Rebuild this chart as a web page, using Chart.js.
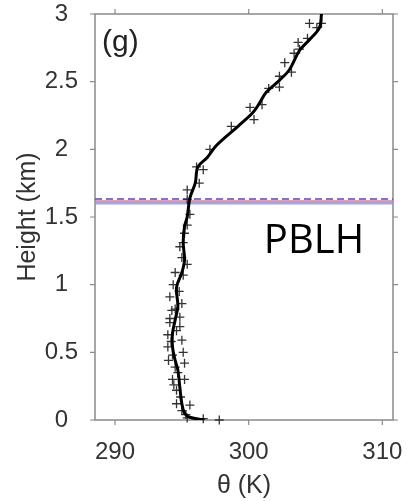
<!DOCTYPE html>
<html>
<head>
<meta charset="utf-8">
<script src="https://cdn.jsdelivr.net/npm/chart.js@4.4.1/dist/chart.umd.min.js"></script>
<style>
  body { margin: 0; background: #fff; }
  canvas { display: block; }
</style>
</head>
<body>
<canvas id="thetaChart" width="407" height="501"></canvas>
<script>
// smoothed theta profile (K) vs height (km)
const profileTheta = [296.7, 295.6, 295.2, 295.0, 294.85, 294.7, 294.5, 294.3, 294.3, 294.5, 294.7, 294.6, 295.0, 295.2, 295.1, 295.2, 295.4, 295.6, 296.0, 296.2, 296.9, 297.6, 299.2, 300.3, 300.8, 301.3, 302.3, 303.06, 303.8, 304.55, 305.3, 305.45];
const profileHeight = [0, 0.02, 0.05, 0.12, 0.24, 0.37, 0.44, 0.54, 0.64, 0.74, 0.84, 0.98, 1.09, 1.18, 1.31, 1.43, 1.50, 1.64, 1.75, 1.87, 1.94, 2.03, 2.17, 2.27, 2.34, 2.42, 2.51, 2.59, 2.73, 2.81, 2.90, 3.0];

// raw sounding points ("+" markers)
const obsTheta = [297.8, 296.6, 295.4, 295.3, 295.0, 295.6, 294.6, 294.9, 294.6, 294.4, 294.3, 295.2, 294.7, 294.5, 295.2, 294.0, 294.3, 295.1, 293.95, 294.2, 295.0, 293.95, 294.6, 294.85, 294.1, 294.85, 294.1, 294.25, 294.5, 295.0, 294.1, 294.8, 294.35, 295.1, 294.5, 295.4, 295.0, 294.85, 295.1, 295.2, 295.4, 295.6, 295.4, 295.4, 296.3, 296.6, 296.1, 297.1, 298.7, 300.4, 300.1, 301.0, 301.5, 302.3, 302.3, 303.2, 302.7, 303.4, 303.8, 303.7, 304.4, 305.1, 304.55, 305.45];
const obsHeight = [0.0, 0.01, 0.015, 0.04, 0.07, 0.11, 0.12, 0.17, 0.22, 0.26, 0.30, 0.30, 0.35, 0.39, 0.42, 0.44, 0.48, 0.50, 0.54, 0.58, 0.59, 0.63, 0.66, 0.69, 0.72, 0.76, 0.75, 0.81, 0.82, 0.86, 0.91, 0.95, 1.00, 1.07, 1.09, 1.15, 1.20, 1.28, 1.31, 1.38, 1.44, 1.52, 1.63, 1.70, 1.75, 1.85, 1.87, 2.0, 2.17, 2.22, 2.31, 2.33, 2.45, 2.46, 2.54, 2.57, 2.64, 2.71, 2.74, 2.79, 2.82, 2.90, 2.93, 2.93];

// PBLH estimates (km)
const pblhDashed = 1.633;
const pblhRed = 1.619;
const pblhBlue = 1.604;

const xTicks = [290, 300, 310];
const xMin = 288.5, xMax = 310.8;
const yMin = 0, yMax = 3;

const toPoints = (xs, ys) => xs.map((x, i) => ({ x: x, y: ys[i] }));
const hLine = (h) => [{ x: xMin, y: h }, { x: xMax, y: h }];

// box + outward ticks on all four sides, panel letter and PBLH note
const boxPlugin = {
    id: 'box',
    beforeDatasetsDraw(chart) {
        const { ctx, chartArea: a, scales } = chart;
        ctx.save();
        ctx.strokeStyle = '#8a8a8a';
        ctx.lineWidth = 1.5;
        ctx.strokeRect(a.left, a.top, a.right - a.left, a.bottom - a.top);
        ctx.lineWidth = 1.2;
        ctx.beginPath();
        scales.x.ticks.forEach(t => {
            const px = scales.x.getPixelForValue(t.value);
            ctx.moveTo(px, a.bottom); ctx.lineTo(px, a.bottom + 5);
            ctx.moveTo(px, a.top); ctx.lineTo(px, a.top - 5);
        });
        scales.y.ticks.forEach(t => {
            const py = scales.y.getPixelForValue(t.value);
            ctx.moveTo(a.left, py); ctx.lineTo(a.left - 5, py);
            ctx.moveTo(a.right, py); ctx.lineTo(a.right + 5, py);
        });
        ctx.stroke();
        ctx.restore();
    },
    afterDraw(chart) {
        const { ctx } = chart;
        ctx.save();
        ctx.fillStyle = '#222';
        ctx.textAlign = 'left';
        ctx.textBaseline = 'alphabetic';
        ctx.font = '30px "Liberation Sans", Arial, sans-serif';
        ctx.fillText('(g)', 102, 51);
        ctx.fillStyle = '#000';
        ctx.textAlign = 'center';
        ctx.font = '40px "Open Sans", sans-serif';
        ctx.fillText('PBLH', 314, 253);
        ctx.restore();
    }
};

new Chart(document.getElementById('thetaChart'), {
    type: 'scatter',
    data: {
        datasets: [
            {
                type: 'line',
                data: toPoints(profileTheta, profileHeight),
                borderColor: '#000',
                borderWidth: 3,
                tension: 0.35,
                pointRadius: 0,
                fill: false
            },
            {
                data: toPoints(obsTheta, obsHeight),
                pointStyle: 'cross',
                pointRadius: 4.5,
                borderColor: '#333',
                borderWidth: 1.3,
                backgroundColor: '#333',
                clip: false
            },
            {
                type: 'line',
                data: hLine(pblhDashed),
                borderColor: 'rgba(90, 90, 235, 0.85)',
                borderWidth: 2,
                borderDash: [7, 4],
                pointRadius: 0
            },
            {
                type: 'line',
                data: hLine(pblhRed),
                borderColor: 'rgba(240, 110, 110, 0.9)',
                borderWidth: 1.5,
                pointRadius: 0
            },
            {
                type: 'line',
                data: hLine(pblhBlue),
                borderColor: 'rgba(140, 140, 240, 0.8)',
                borderWidth: 3,
                pointRadius: 0
            }
        ]
    },
    options: {
        responsive: false,
        animation: false,
        layout: { padding: { top: 14, right: 14, left: 0, bottom: 0 } },
        plugins: {
            legend: { display: false },
            tooltip: { enabled: false }
        },
        scales: {
            x: {
                type: 'linear',
                min: xMin,
                max: xMax,
                afterBuildTicks: (scale) => { scale.ticks = xTicks.map(v => ({ value: v })); },
                afterFit: (scale) => {
                    scale.height = 81;
                    scale.paddingLeft = 0;
                    scale.paddingRight = 0;
                },
                grid: { display: false, drawTicks: false },
                border: { display: false },
                ticks: {
                    padding: 18,
                    color: '#333',
                    font: { family: '"Liberation Sans", Arial, sans-serif', size: 24 }
                },
                title: {
                    display: true,
                    text: 'θ (K)',
                    color: '#333',
                    padding: { top: 0, bottom: 0 },
                    font: { family: '"Liberation Sans", Arial, sans-serif', size: 25 }
                }
            },
            y: {
                type: 'linear',
                min: yMin,
                max: yMax,
                afterFit: (scale) => {
                    scale.width = 95;
                    scale.paddingTop = 0;
                    scale.paddingBottom = 0;
                },
                grid: { display: false, drawTicks: false },
                border: { display: false },
                ticks: {
                    stepSize: 0.5,
                    padding: 17,
                    crossAlign: 'center',
                    color: '#333',
                    callback: (v) => String(Number(v.toFixed(1))),
                    font: { family: '"Liberation Sans", Arial, sans-serif', size: 24 }
                },
                title: {
                    display: true,
                    text: 'Height (km)',
                    color: '#333',
                    padding: { top: 13, bottom: 0 },
                    font: { family: '"Liberation Sans", Arial, sans-serif', size: 25 }
                }
            }
        }
    },
    plugins: [boxPlugin]
});
</script>
</body>
</html>
